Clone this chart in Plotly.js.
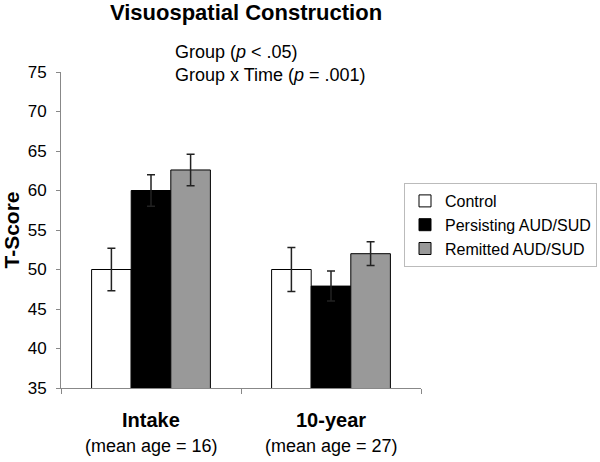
<!DOCTYPE html>
<html>
<head>
<meta charset="utf-8">
<script src="https://cdn.plot.ly/plotly-3.0.1.min.js"></script>
<style>html,body{margin:0;padding:0;background:#fff;}#chart{width:600px;height:462px;}</style>
</head>
<body>
<div id="chart"></div>
<script>
const categories = ["Intake", "10-year"];
const categorySub = ["(mean age = 16)", "(mean age = 27)"];
const seriesNames = ["Control", "Persisting AUD/SUD", "Remitted AUD/SUD"];
const controlValues = [50.0, 50.0];
const controlErrors = [2.7, 2.8];
const persistingValues = [60.0, 47.9];
const persistingErrors = [2.0, 1.9];
const remittedValues = [62.6, 52.0];
const remittedErrors = [2.0, 1.5];
const yTicks = [35, 40, 45, 50, 55, 60, 65, 70, 75];

const colors = ["#ffffff", "#000000", "#999999"];
const allValues = [controlValues, persistingValues, remittedValues];
const allErrors = [controlErrors, persistingErrors, remittedErrors];

const traces = seriesNames.map((name, i) => ({
  type: "bar",
  name: name,
  x: categories,
  y: allValues[i],
  marker: {color: colors[i], line: {color: "#000000", width: 1}},
  error_y: {type: "data", array: allErrors[i], visible: true, color: "#222222", thickness: 1.5, width: 4}
}));

const FONT = "Liberation Sans, Arial, sans-serif";
const ML = 61, MR = 3, PW = 600 - ML - MR, PH = 316;
const px = (p) => (p - ML) / PW;

const layout = {
  width: 600, height: 462,
  margin: {l: ML, r: MR, t: 72, b: 74},
  paper_bgcolor: "#ffffff", plot_bgcolor: "#ffffff",
  font: {family: FONT, color: "#000000", size: 17},
  barmode: "group", bargap: 0.34, bargroupgap: 0,
  title: {text: "<b>Visuospatial Construction</b>", font: {size: 22, color: "#000000"}, x: 0.41, xanchor: "center", y: 0.99, yanchor: "top"},
  xaxis: {
    domain: [0, px(421)],
    type: "category", tickson: "boundaries", ticks: "outside", ticklen: 5, tickcolor: "#888888",
    showline: true, linecolor: "#888888", linewidth: 1, showticklabels: false, showgrid: false, zeroline: false,
    range: [-0.5, 1.5]
  },
  yaxis: {
    range: [35, 75], tickvals: yTicks, ticks: "outside", ticklen: 4, tickcolor: "#888888",
    showline: true, linecolor: "#888888", linewidth: 1, showgrid: false, zeroline: false,
    ticklabelstandoff: 6, tickfont: {size: 17},
    title: {text: "<b>T-Score</b>", font: {size: 21}, standoff: 10}
  },
  legend: {
    x: 1, xanchor: "right", y: 1 - (225 - 72) / PH, yanchor: "middle",
    bordercolor: "#bbbbbb", borderwidth: 1, bgcolor: "#ffffff",
    font: {size: 16}, tracegroupgap: 4, itemwidth: 30
  },
  showlegend: true,
  annotations: [
    {xref: "paper", yref: "paper", x: px(173), y: 1 + (72 - 52) / PH, xanchor: "left", yanchor: "middle", showarrow: false, align: "left",
     text: "Group (<i>p</i> < .05)", font: {size: 18}},
    {xref: "paper", yref: "paper", x: px(173), y: 1 + (72 - 75) / PH, xanchor: "left", yanchor: "middle", showarrow: false, align: "left",
     text: "Group x Time (<i>p</i> = .001)", font: {size: 18}}
  ].concat(categories.map((c, i) => ({
    xref: "x", yref: "paper", x: c, y: -(420 - 388) / PH, yanchor: "middle", showarrow: false,
    text: "<b>" + c + "</b>", font: {size: 20}
  }))).concat(categorySub.map((c, i) => ({
    xref: "x", yref: "paper", x: categories[i], y: -(446 - 388) / PH, yanchor: "middle", showarrow: false,
    text: c, font: {size: 18}
  })))
};

Plotly.newPlot("chart", traces, layout, {staticPlot: true, displayModeBar: false});
</script>
</body>
</html>
